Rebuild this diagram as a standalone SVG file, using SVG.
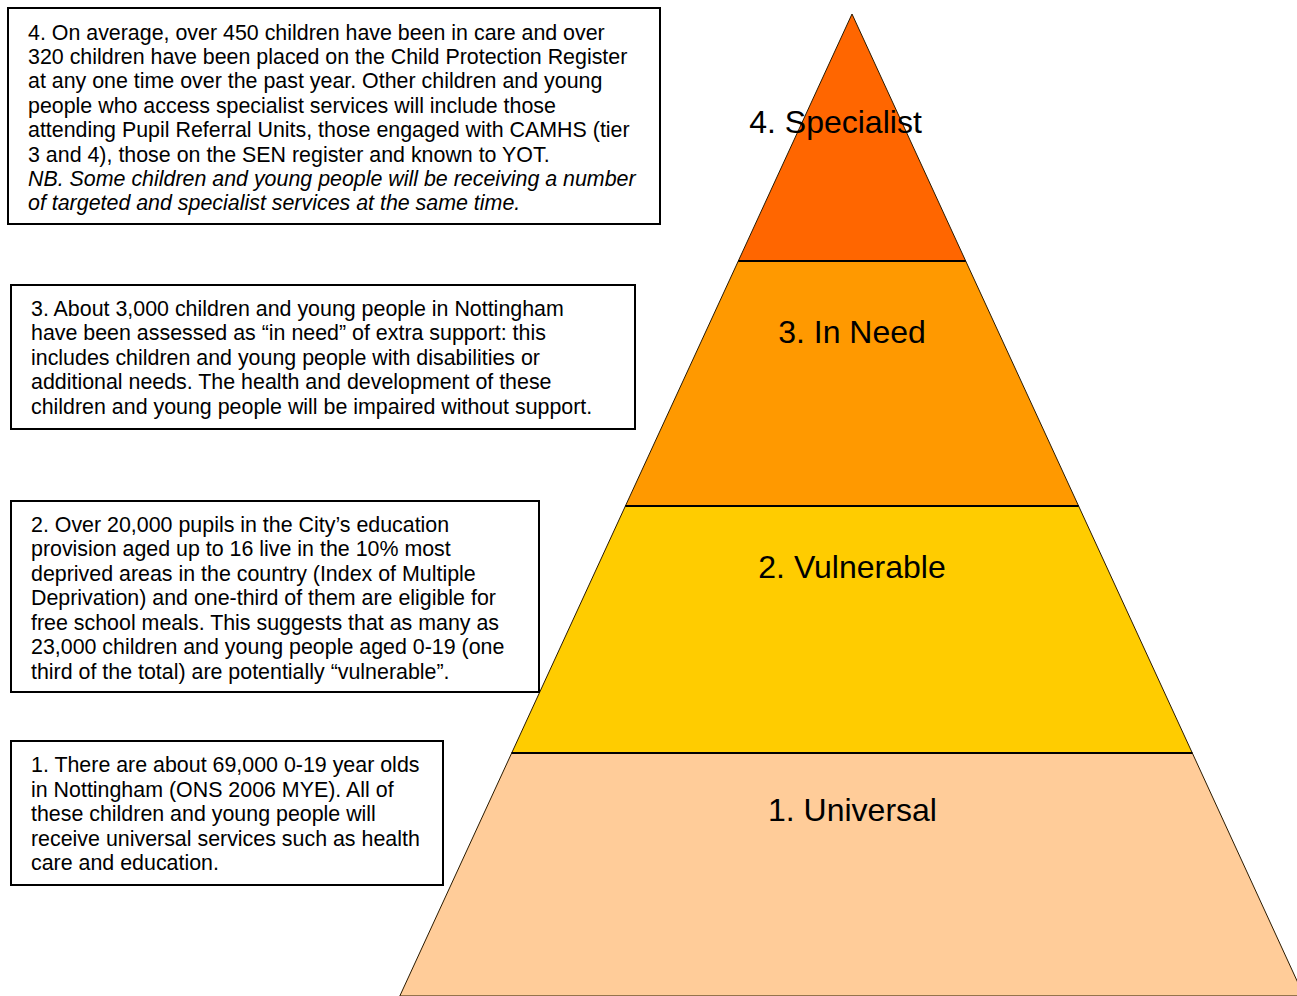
<svg xmlns="http://www.w3.org/2000/svg" width="1297" height="996" viewBox="0 0 1297 996">
<style>
.box{fill:#fff;stroke:#000;stroke-width:2}
.t{font-family:"Liberation Sans",Arial,sans-serif;font-size:21.4px;fill:#000}
.i{font-style:italic}
.lay{stroke:#2a1a00;stroke-width:1}
.div{stroke:#000;stroke-width:2.2}
.lbl{font-family:"Liberation Sans",Arial,sans-serif;font-size:32px;fill:#000;text-anchor:middle}
</style>
<rect width="1297" height="996" fill="#fff"/>
<g id="layer-1">
<polygon class="lay" points="511.7,753 1192.3,753 1304,996 399.8,996" fill="#FFCC99"/>
<text class="lbl" x="852.5" y="821">1. Universal</text>
</g>
<g id="layer-2">
<polygon class="lay" points="625.4,506 1078.6,506 1192.3,753 511.7,753" fill="#FFCC00"/>
<text class="lbl" x="852" y="578">2. Vulnerable</text>
</g>
<g id="layer-3">
<polygon class="lay" points="738.3,261 965.7,261 1078.6,506 625.4,506" fill="#FF9900"/>
<text class="lbl" x="852" y="343">3. In Need</text>
</g>
<g id="layer-4">
<polygon class="lay" points="852,14 965.7,261 738.3,261" fill="#FF6600"/>
</g>
<g id="dividers">
<line class="div" x1="738.3" y1="261" x2="965.7" y2="261"/>
<line class="div" x1="625.4" y1="506" x2="1078.6" y2="506"/>
<line class="div" x1="511.7" y1="753" x2="1192.3" y2="753"/>
</g>
<text class="lbl" x="835.5" y="133">4. Specialist</text>
<g id="box-4">
<rect class="box" x="8" y="8" width="652" height="216"/>
<text class="t" x="28" y="39.5">4. On average, over 450 children have been in care and over</text>
<text class="t" x="28" y="63.5">320 children have been placed on the Child Protection Register</text>
<text class="t" x="28" y="88">at any one time over the past year. Other children and young</text>
<text class="t" x="28" y="112.5">people who access specialist services will include those</text>
<text class="t" x="28" y="137">attending Pupil Referral Units, those engaged with CAMHS (tier</text>
<text class="t" x="28" y="161.5">3 and 4), those on the SEN register and known to YOT.</text>
<text class="t i" x="28" y="185.5">NB. Some children and young people will be receiving a number</text>
<text class="t i" x="28" y="210">of targeted and specialist services at the same time.</text>
</g>
<g id="box-3">
<rect class="box" x="11" y="285" width="624" height="144"/>
<text class="t" x="31" y="315.5">3. About 3,000 children and young people in Nottingham</text>
<text class="t" x="31" y="340">have been assessed as “in need” of extra support: this</text>
<text class="t" x="31" y="364.5">includes children and young people with disabilities or</text>
<text class="t" x="31" y="389">additional needs. The health and development of these</text>
<text class="t" x="31" y="413.5">children and young people will be impaired without support.</text>
</g>
<g id="box-2">
<rect class="box" x="11" y="501" width="528" height="191"/>
<text class="t" x="31" y="531.5">2. Over 20,000 pupils in the City’s education</text>
<text class="t" x="31" y="556">provision aged up to 16 live in the 10% most</text>
<text class="t" x="31" y="580.5">deprived areas in the country (Index of Multiple</text>
<text class="t" x="31" y="605">Deprivation) and one-third of them are eligible for</text>
<text class="t" x="31" y="629.5">free school meals. This suggests that as many as</text>
<text class="t" x="31" y="654">23,000 children and young people aged 0-19 (one</text>
<text class="t" x="31" y="678.5">third of the total) are potentially “vulnerable”.</text>
</g>
<g id="box-1">
<rect class="box" x="11" y="741" width="432" height="144"/>
<text class="t" x="31" y="772">1. There are about 69,000 0-19 year olds</text>
<text class="t" x="31" y="796.5">in Nottingham (ONS 2006 MYE). All of</text>
<text class="t" x="31" y="821">these children and young people will</text>
<text class="t" x="31" y="845.5">receive universal services such as health</text>
<text class="t" x="31" y="870">care and education.</text>
</g>
<g id="connectors"/>
</svg>
